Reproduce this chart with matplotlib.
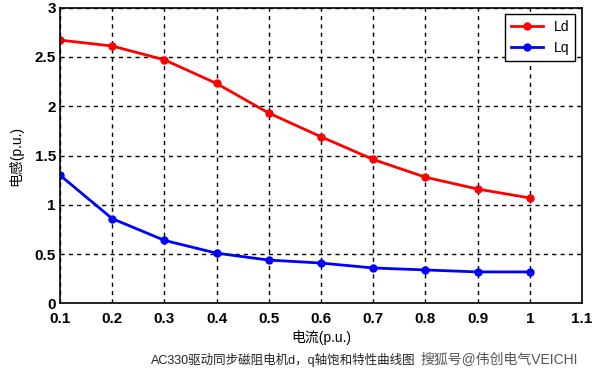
import matplotlib.pyplot as plt

plt.rcParams['font.family'] = ['Liberation Sans', 'Noto Sans CJK SC', 'DejaVu Sans']

current = [0.1, 0.2, 0.3, 0.4, 0.5, 0.6, 0.7, 0.8, 0.9, 1.0]
ld = [2.67, 2.61, 2.47, 2.23, 1.93, 1.69, 1.46, 1.28, 1.16, 1.07]
lq = [1.30, 0.86, 0.64, 0.51, 0.44, 0.41, 0.36, 0.34, 0.32, 0.32]
xticks = [0.1, 0.2, 0.3, 0.4, 0.5, 0.6, 0.7, 0.8, 0.9, 1, 1.1]
xtick_labels = ['0.1', '0.2', '0.3', '0.4', '0.5', '0.6', '0.7', '0.8', '0.9', '1', '1.1']
yticks = [0, 0.5, 1, 1.5, 2, 2.5, 3]
ytick_labels = ['0', '0.5', '1', '1.5', '2', '2.5', '3']

fig = plt.figure(figsize=(6, 3.77), dpi=100)
ax = fig.add_axes([0.10, 0.195, 0.87, 0.785])

ax.plot(current, ld, color='#ff0000', lw=2, marker='o', ms=5, label='Ld')
ax.plot(current, lq, color='#0000ff', lw=2, marker='o', ms=5, label='Lq')

ax.set_xlim(0.1, 1.1)
ax.set_ylim(0, 3)
ax.set_xticks(xticks)
ax.set_xticklabels(xtick_labels, fontweight='bold', fontsize=11)
ax.set_yticks(yticks)
ax.set_yticklabels(ytick_labels, fontweight='bold', fontsize=11)
ax.tick_params(direction='in', length=0)
ax.tick_params(axis='x', pad=6)
ax.tick_params(axis='y', pad=3)
ax.grid(True, color='black', linestyle=(0, (3, 3)), linewidth=1)
for s in ax.spines.values():
    s.set_linewidth(1.2)

ax.set_xlabel('电流(p.u.)', fontsize=10, labelpad=3)
ax.set_ylabel('电感(p.u.)', fontsize=10, labelpad=8)

leg = ax.legend(loc='upper right', fontsize=10, fancybox=False, edgecolor='black',
                framealpha=1, borderaxespad=0.5, handlelength=2.3)
leg.get_frame().set_linewidth(1)

fig.text(0.252, 0.035, 'AC330驱动同步磁阻电机d，q轴饱和特性曲线图', fontsize=9, color='#222222')
fig.text(0.70, 0.035, '搜狐号@伟创电气VEICHI', fontsize=10, color='#555555')

plt.savefig('out.png')
